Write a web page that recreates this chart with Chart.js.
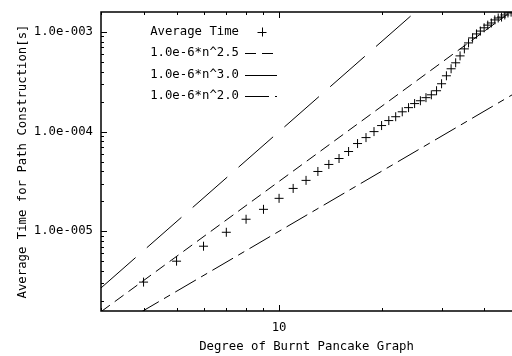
<!DOCTYPE html>
<html>
<head>
<meta charset="utf-8">
<script src="https://cdn.jsdelivr.net/npm/chart.js@4.4.0/dist/chart.umd.min.js"></script>
<style>
  html, body { margin: 0; padding: 0; background: #fff; overflow: hidden; }
  #wrap { width: 512px; height: 356px; }
</style>
</head>
<body>
<div id="wrap"><canvas id="chart" width="512" height="356"></canvas></div>
<script>
// measured points (degree n -> average time [s])
const degrees = [4, 5, 6, 7, 8, 9, 10, 11, 12, 13, 14, 15, 16, 17, 18, 19, 20, 21, 22, 23, 24, 25,
  26, 27, 28, 29, 30, 31, 32, 33, 34, 35, 36, 37, 38, 39, 40, 41, 42, 43, 44, 45, 46, 47, 48];
const avgTime = [3.09e-6, 5.01e-6, 7.08e-6, 9.77e-6, 1.32e-5, 1.66e-5, 2.14e-5, 2.69e-5, 3.24e-5,
  3.98e-5, 4.68e-5, 5.37e-5, 6.31e-5, 7.59e-5, 8.71e-5, 1.00e-4, 1.15e-4, 1.29e-4, 1.41e-4,
  1.58e-4, 1.74e-4, 1.91e-4, 2.04e-4, 2.19e-4, 2.34e-4, 2.57e-4, 3.02e-4, 3.63e-4, 4.27e-4,
  4.90e-4, 5.75e-4, 6.76e-4, 7.76e-4, 8.71e-4, 9.55e-4, 1.02e-3, 1.10e-3, 1.17e-3, 1.23e-3,
  1.32e-3, 1.38e-3, 1.41e-3, 1.48e-3, 1.55e-3, 1.58e-3];

// reference curves, end points only (straight on log-log)
const fitX = [3, 50];
const fitN25 = [1.56e-6, 1.77e-3];
const fitN30 = [2.70e-6, 1.25e-2];
const fitN20 = [9.0e-7, 2.50e-4];

const legendLabels = ['Average Time', '1.0e-6*n^2.5', '1.0e-6*n^3.0', '1.0e-6*n^2.0'];

const xTickValues = [10];
const xTickLabels = ['10'];
const yTickValues = [1e-5, 1e-4, 1e-3];
const yTickLabels = ['1.0e-005', '1.0e-004', '1.0e-003'];

const FONT = { family: 'DejaVu Sans Mono', size: 12.3 };

function pts(xs, ys) { return xs.map((x, i) => ({ x, y: ys[i] })); }

const gnuFrame = {
  id: 'gnuFrame',
  afterDraw(chart) {
    const { ctx, chartArea: a, scales: { x, y } } = chart;
    ctx.save();
    ctx.strokeStyle = '#000';
    ctx.lineWidth = 1;
    ctx.beginPath();
    // x tick marks, bottom and top (mirrored)
    for (let d = 1; d <= 10; d *= 10) {
      for (let m = 1; m <= 9; m++) {
        const v = m * d;
        if (v < x.min || v > x.max) continue;
        const px = Math.round(x.getPixelForValue(v)) + 0.5;
        const len = m === 1 ? 6 : 3;
        ctx.moveTo(px, a.bottom); ctx.lineTo(px, a.bottom - len);
        ctx.moveTo(px, a.top); ctx.lineTo(px, a.top + len);
      }
    }
    // y tick marks (right border is off the picture)
    for (let e = -6; e <= -3; e++) {
      for (let m = 1; m <= 9; m++) {
        const v = m * Math.pow(10, e);
        if (v < y.min || v > y.max) continue;
        const py = Math.round(y.getPixelForValue(v)) + 0.5;
        const len = m === 1 ? 6 : 3;
        ctx.moveTo(a.left, py); ctx.lineTo(a.left + len, py);
      }
    }
    ctx.stroke();
    ctx.lineWidth = 1.5;
    ctx.beginPath();
    ctx.moveTo(a.right + 2, a.top);
    ctx.lineTo(a.left, a.top);
    ctx.lineTo(a.left, a.bottom);
    ctx.lineTo(a.right + 2, a.bottom);
    ctx.stroke();

    // gnuplot style key: text right aligned, sample on the right
    ctx.font = FONT.size + 'px "' + FONT.family + '"';
    ctx.fillStyle = '#000';
    ctx.textAlign = 'right';
    ctx.textBaseline = 'middle';
    chart.data.datasets.forEach((ds, i) => {
      const ty = 32 + i * 21.3;
      ctx.fillText(ds.label, 239, ty);
      ctx.lineWidth = 1;
      ctx.beginPath();
      if (ds.showLine) {
        ctx.setLineDash(ds.borderDash || []);
        ctx.moveTo(245, Math.round(ty) + 0.5);
        ctx.lineTo(277, Math.round(ty) + 0.5);
      } else {
        ctx.setLineDash([]);
        const cx = 262, cy = Math.round(ty) + 0.5;
        ctx.moveTo(cx - 4.5, cy); ctx.lineTo(cx + 4.5, cy);
        ctx.moveTo(cx + 0.5, cy - 5); ctx.lineTo(cx + 0.5, cy + 4);
      }
      ctx.stroke();
    });
    ctx.restore();
  }
};

new Chart(document.getElementById('chart'), {
  type: 'scatter',
  data: {
    datasets: [
      { label: legendLabels[0], data: pts(degrees, avgTime), showLine: false,
        pointStyle: 'cross', pointRadius: 4.5, borderColor: '#000', borderWidth: 1 },
      { label: legendLabels[1], data: pts(fitX, fitN25), showLine: true, pointRadius: 0,
        borderColor: '#000', borderWidth: 1, borderDash: [11, 6] },
      { label: legendLabels[2], data: pts(fitX, fitN30), showLine: true, pointRadius: 0,
        borderColor: '#000', borderWidth: 1, borderDash: [46, 15] },
      { label: legendLabels[3], data: pts(fitX, fitN20), showLine: true, pointRadius: 0,
        borderColor: '#000', borderWidth: 1, borderDash: [24, 6, 7, 6] }
    ]
  },
  options: {
    responsive: false,
    animation: false,
    devicePixelRatio: 1,
    events: [],
    layout: { autoPadding: false, padding: { left: 0, top: 12, right: 0, bottom: 0 } },
    plugins: { legend: { display: false }, tooltip: { enabled: false } },
    scales: {
      x: {
        type: 'logarithmic', min: 3, max: 48.3,
        grid: { display: false, drawTicks: false },
        border: { display: false },
        ticks: { color: '#000', font: FONT, padding: 9, maxRotation: 0, autoSkip: false,
          callback: (v, i) => xTickLabels[i] },
        afterBuildTicks: s => { s.ticks = xTickValues.map(v => ({ value: v })); },
        afterFit: s => { s.height = 45; s.paddingLeft = 0; s.paddingRight = 0; },
        title: { display: true, text: 'Degree of Burnt Pancake Graph', color: '#000', font: FONT,
          padding: { top: 0, bottom: 2 } }
      },
      y: {
        type: 'logarithmic', min: Math.pow(10, -5.8), max: Math.pow(10, -2.8),
        grid: { display: false, drawTicks: false },
        border: { display: false },
        ticks: { color: '#000', font: FONT, padding: 8, autoSkip: false,
          callback: (v, i) => yTickLabels[i] },
        afterBuildTicks: s => { s.ticks = yTickValues.map(v => ({ value: v })); },
        afterFit: s => { s.width = 101; s.paddingTop = 0; s.paddingBottom = 0; },
        title: { display: true, text: 'Average Time for Path Construction[s]', color: '#000', font: FONT,
          padding: { top: 15, bottom: 0 } }
      }
    }
  },
  plugins: [gnuFrame]
});
</script>
</body>
</html>
